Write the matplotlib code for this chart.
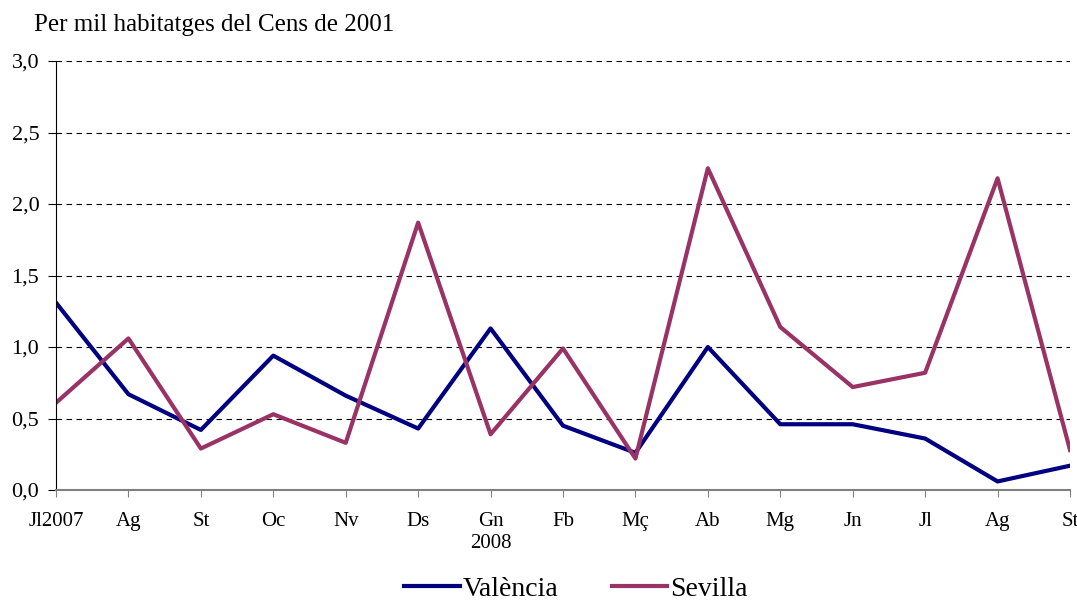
import numpy as np
import matplotlib.pyplot as plt

months = ['Jl2007', 'Ag', 'St', 'Oc', 'Nv', 'Ds', 'Gn\n2008', 'Fb', 'Mç',
          'Ab', 'Mg', 'Jn', 'Jl', 'Ag', 'St']
valencia = [1.31, 0.67, 0.42, 0.94, 0.66, 0.43, 1.13, 0.45, 0.26,
            1.00, 0.46, 0.46, 0.36, 0.06, 0.17]
sevilla = [0.61, 1.06, 0.29, 0.53, 0.33, 1.87, 0.39, 0.99, 0.22,
           2.25, 1.14, 0.72, 0.82, 2.18, 0.28]
yticks = [0.0, 0.5, 1.0, 1.5, 2.0, 2.5, 3.0]

plt.rcParams['font.family'] = ['Liberation Serif', 'DejaVu Serif']

fig = plt.figure(figsize=(10.77, 6), dpi=100)
ax = fig.add_axes([0.052, 0.1833, 0.9415, 0.7150])

x = np.arange(len(months))
ax.plot(x, valencia, color='#000080', lw=3, label='València')
ax.plot(x, sevilla, color='#993366', lw=3, label='Sevilla')

ax.set_xlim(0, len(months) - 1)
ax.set_ylim(0, 3.0)
ax.set_yticks(yticks)
ax.set_yticklabels([f'{v:.1f}'.replace('.', ',') for v in yticks])
ax.set_xticks(x)
ax.set_xticklabels(months)
ax.tick_params(axis='both', labelsize=15, direction='out', colors='black')
ax.tick_params(axis='y', labelsize=16, length=6, pad=6)
ax.tick_params(axis='x', length=5, color='#808080', pad=11)

for v in yticks[1:]:
    ax.axhline(v, color='black', lw=0.8, ls=(0, (5, 4)), zorder=0)

for s in ['top', 'right']:
    ax.spines[s].set_visible(False)
ax.spines['bottom'].set_color('#808080')
ax.spines['bottom'].set_linewidth(1.5)
ax.spines['left'].set_color('black')

fig.text(0.032, 0.948, 'Per mil habitatges del Cens de 2001', fontsize=18)

fig.legend(loc='center', bbox_to_anchor=(0.535, 0.018), ncol=2, frameon=False,
           fontsize=20, handlelength=2.0, columnspacing=1.9, handletextpad=0.12)

fig.savefig('out.png', dpi=100)
